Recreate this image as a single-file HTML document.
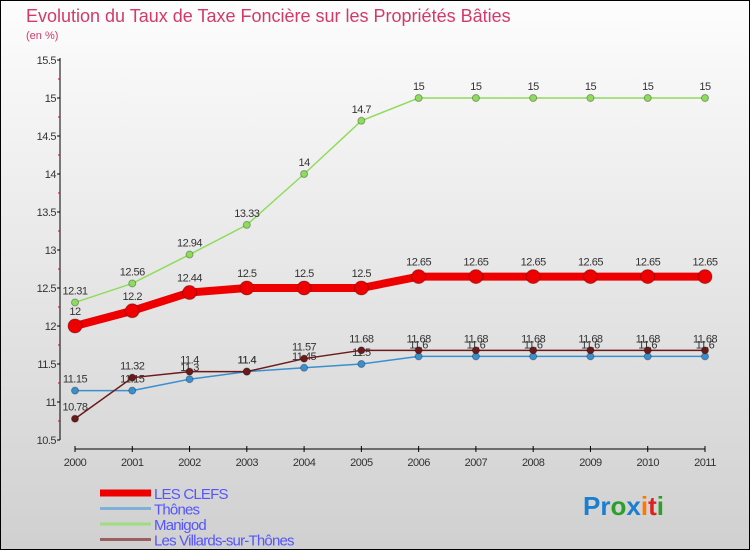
<!DOCTYPE html>
<html><head><meta charset="utf-8"><style>
body{margin:0;width:750px;height:550px;overflow:hidden;font-family:"Liberation Sans",sans-serif}
#wrap{position:absolute;left:0;top:0;width:748px;height:548px;border:1px solid #000;background:linear-gradient(#fdfdfd,#d0d0d0)}
</style></head><body>
<div id="wrap">
<svg id="chart" width="750" height="550" style="position:absolute;left:-1px;top:-1px"></svg>
</div>
<script>
const years=[2000,2001,2002,2003,2004,2005,2006,2007,2008,2009,2010,2011];
const clefs=[12,12.2,12.44,12.5,12.5,12.5,12.65,12.65,12.65,12.65,12.65,12.65];
const thones=[11.15,11.15,11.3,11.4,11.45,11.5,11.6,11.6,11.6,11.6,11.6,11.6];
const manigod=[12.31,12.56,12.94,13.33,14,14.7,15,15,15,15,15,15];
const villards=[10.78,11.32,11.4,11.4,11.57,11.68,11.68,11.68,11.68,11.68,11.68,11.68];
const yTicks=[10.5,11,11.5,12,12.5,13,13.5,14,14.5,15,15.5];
const NS="http://www.w3.org/2000/svg";const svg=document.getElementById('chart');
const X=i=>75+i*(630/11);const Y=v=>440-(v-10.5)*76;
function mk(t,a,p){const e=document.createElementNS(NS,t);for(const k in a)e.setAttribute(k,a[k]);(p||svg).appendChild(e);return e;}
let t=mk('text',{x:26,y:22,fill:'#d33a6a','font-size':18});t.textContent='Evolution du Taux de Taxe Foncière sur les Propriétés Bâties';


t=mk('text',{x:26,y:39,fill:'#d33a6a','font-size':11});t.textContent='(en %)';


let a=mk('line',{x1:60,y1:58,x2:60,y2:440,stroke:'#000'});


a=mk('line',{x1:75,y1:449,x2:705,y2:449,stroke:'#000'});


yTicks.forEach((v,i)=>{mk('line',{x1:57,y1:Y(v),x2:60,y2:Y(v),stroke:'#000'});
 if(i<yTicks.length-1)mk('line',{x1:58,y1:Y(v+0.25),x2:60,y2:Y(v+0.25),stroke:'#e00'});
 const l=mk('text',{x:56,y:Y(v)+4,'text-anchor':'end','font-size':11,fill:'#333','letter-spacing':'-0.5'});l.textContent=v;
 
 });
years.forEach((y,i)=>{mk('line',{x1:X(i),y1:446,x2:X(i),y2:452,stroke:'#000'});
 const l=mk('text',{x:X(i),y:466,'text-anchor':'middle','font-size':11,fill:'#333','letter-spacing':'-0.5'});l.textContent=y;
 
 });
function series(d,color,w,r,name,dy){
 const g=mk('g',{});
 
 
 mk('polyline',{points:d.map((v,i)=>X(i)+','+Y(v)).join(' '),fill:'none',stroke:color,'stroke-width':w},g);
 d.forEach((v,i)=>{const c=mk('circle',{cx:X(i),cy:Y(v),r:r,fill:color,stroke:'rgba(0,0,0,0.3)'},g);
  
  
  const l=mk('text',{x:X(i),y:Y(v)+dy,'text-anchor':'middle','font-size':11,fill:'#333','letter-spacing':'-0.5'},g);l.textContent=v;
  
  });
}
series(thones,'#3a8fd0',1.5,3.5,'thones-series',-8);
series(manigod,'#8fdc5c',1.5,3.5,'manigod-series',-8);
series(villards,'#6b1a1a',1.5,3.5,'villards-series',-8);
series(clefs,'#ee0000',8,7,'les-clefs-series',-11);
const names=['LES CLEFS','Thônes','Manigod','Les Villards-sur-Thônes'];
const cols=['#ee0000','#7fb0d8','#a0dc80','#9a6060'];const ws=[7,3,3,3];
names.forEach((n,i)=>{const y=492+i*15.5;
 const g=mk('g',{});
 
 
 mk('line',{x1:100,y1:y+1,x2:151,y2:y+1,stroke:cols[i],'stroke-width':ws[i]},g);
 const l=mk('text',{x:154,y:y+7,'font-size':15,fill:'#5555ff','letter-spacing':'-0.8'},g);l.textContent=n;});
const logo=mk('text',{x:583,y:515,'font-size':26,'font-weight':'bold'});


[['Pr','#1a7fd0'],['o','#2aa02a'],['x','#1a7fd0'],['i','#ff7700'],['t','#dd2222'],['i','#2aa02a']].forEach(([s,c])=>{const ts=mk('tspan',{fill:c},logo);ts.textContent=s;});
</script>
</body></html>
